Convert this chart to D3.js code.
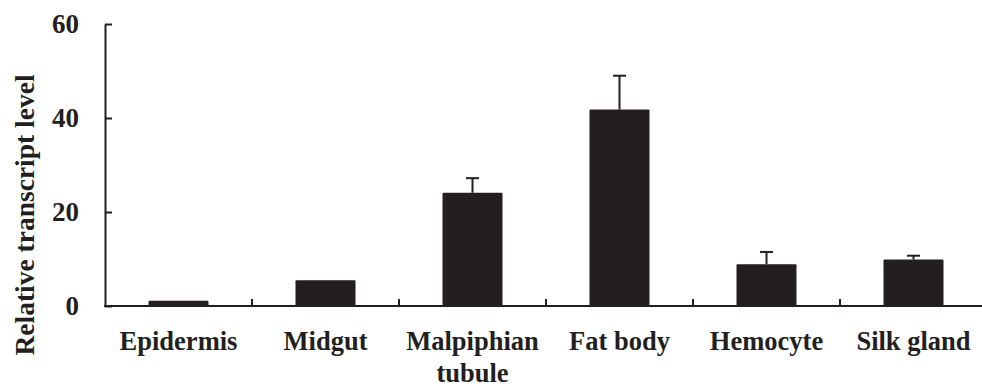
<!DOCTYPE html>
<html>
<head>
<meta charset="utf-8">
<script src="https://cdn.jsdelivr.net/npm/d3@7"></script>
<style>
  body { margin: 0; background: #fff; }
  text { font-family: "Liberation Serif", "Times New Roman", serif; font-weight: bold; fill: #231f20; }
</style>
</head>
<body>
<svg id="chart" width="982" height="388"></svg>
<script>
const tissues = ['Epidermis', 'Midgut', 'Malpiphian\ntubule', 'Fat body', 'Hemocyte', 'Silk gland'];
const levels = [1.1, 5.5, 24.1, 41.8, 8.9, 9.9];
const errors = [0, 0, 3.1, 7.2, 2.6, 0.8];
const yTicks = [0, 20, 40, 60];

const data = tissues.map((t, i) => ({ tissue: t, value: levels[i], err: errors[i] }));

const svg = d3.select('#chart');
const ink = '#231f20';

const x = d3.scaleBand().domain(tissues).range([105, 987]).padding(0);
const y = d3.scaleLinear().domain([0, 60]).range([306, 24]);
const barW = x.bandwidth() * 60 / 147;

// y axis
const yAxis = svg.append('g')
  .attr('transform', 'translate(105,0)')
  .call(d3.axisLeft(y).tickValues(yTicks).tickSizeInner(-7).tickSizeOuter(0).tickPadding(26));
yAxis.select('.domain').attr('stroke', ink).attr('stroke-width', 2);
yAxis.selectAll('.tick line').attr('stroke', ink).attr('stroke-width', 2);
yAxis.selectAll('.tick text')
  .style('font-size', '27px')
  .attr('fill', ink);

// x axis baseline
svg.append('line')
  .attr('x1', 104).attr('x2', 982)
  .attr('y1', y(0)).attr('y2', y(0))
  .attr('stroke', ink).attr('stroke-width', 2);

// category separator ticks
svg.append('g')
  .selectAll('line')
  .data(tissues)
  .join('line')
  .attr('x1', (d) => x(d) + x.bandwidth())
  .attr('x2', (d) => x(d) + x.bandwidth())
  .attr('y1', y(0))
  .attr('y2', y(0) - 7)
  .attr('stroke', ink)
  .attr('stroke-width', 2);

// bars
svg.append('g')
  .selectAll('rect')
  .data(data)
  .join('rect')
  .attr('x', (d) => x(d.tissue) + (x.bandwidth() - barW) / 2)
  .attr('y', (d) => y(d.value))
  .attr('width', barW)
  .attr('height', (d) => y(0) - y(d.value))
  .attr('rx', 1)
  .attr('fill', ink);

// error bars
const eb = svg.append('g')
  .selectAll('g')
  .data(data.filter((d) => d.err > 0))
  .join('g')
  .attr('stroke', ink)
  .attr('stroke-width', 2);
eb.append('line')
  .attr('x1', (d) => x(d.tissue) + x.bandwidth() / 2)
  .attr('x2', (d) => x(d.tissue) + x.bandwidth() / 2)
  .attr('y1', (d) => y(d.value))
  .attr('y2', (d) => y(d.value + d.err));
eb.append('line')
  .attr('x1', (d) => x(d.tissue) + x.bandwidth() / 2 - 6.5)
  .attr('x2', (d) => x(d.tissue) + x.bandwidth() / 2 + 6.5)
  .attr('y1', (d) => y(d.value + d.err))
  .attr('y2', (d) => y(d.value + d.err));

// category labels
svg.append('g')
  .selectAll('text')
  .data(tissues)
  .join('text')
  .attr('text-anchor', 'middle')
  .style('font-size', '26.5px')
  .each(function (d) {
    const t = d3.select(this);
    d.split('\n').forEach((line, i) => {
      t.append('tspan')
        .attr('x', x(d) + x.bandwidth() / 2)
        .attr('y', 350 + i * 32)
        .text(line);
    });
  });

// y axis title
svg.append('text')
  .attr('transform', 'translate(34,215) rotate(-90)')
  .attr('text-anchor', 'middle')
  .style('font-size', '27.5px')
  .text('Relative transcript level');
</script>
</body>
</html>
